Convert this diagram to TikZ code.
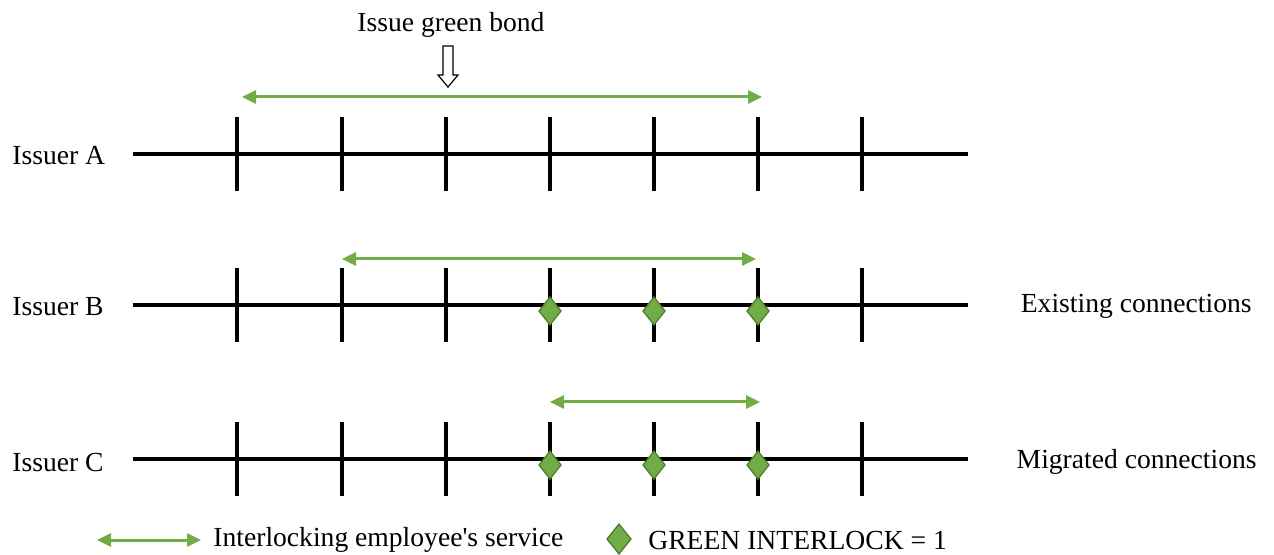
\documentclass[tikz,border=0pt]{standalone}
\usepackage{fontspec}
\setmainfont{Liberation Serif}
\usetikzlibrary{arrows.meta}
\definecolor{gline}{HTML}{70AD47}
\definecolor{gdark}{HTML}{4E7A30}
\begin{document}
\begin{tikzpicture}[x=0.5pt,y=-0.5pt,
  lbl/.style={font=\fontsize{13.8}{16}\selectfont, inner sep=0pt},
  tline/.style={line width=1.6pt, black},
  tick/.style={line width=1.6pt, black},
  serv/.style={gline, line width=1.5pt, {Triangle[length=7pt,width=6.5pt]}-{Triangle[length=7pt,width=6.5pt]}},
  gdia/.style={draw=gdark, fill=gline, line width=0.6pt, line join=miter}]
\useasboundingbox (0,0) rectangle (1274,555);
% labels
\node[lbl, anchor=west] (la) at (12,156) {Issuer A};
\node[lbl, anchor=west] (lb) at (12,307) {Issuer B};
\node[lbl, anchor=west] (lc) at (12,462) {Issuer C};
\node[lbl, anchor=east] (ex) at (1252,306) {Existing connections};
\node[lbl, anchor=east] (mi) at (1257,462) {Migrated connections};
\node[lbl] (igb) at (451,25) {Issue green bond};
% timelines
\foreach \r/\y in {a/154,b/305,c/459}{
  \coordinate (\r s) at (133,\y);
  \coordinate (\r e) at (968,\y);
  \draw[tline] (\r s) -- (\r e);
  \foreach \i/\x in {1/237,2/342,3/446,4/550,5/654,6/758,7/862}{
    \coordinate (\r t\i) at (\x,\y);
    \draw[tick] ([yshift=18.5pt]\r t\i) -- ([yshift=-18.5pt]\r t\i);
  }
}
% white block arrow
\draw[black, line width=0.6pt, fill=white] (443,46) -- (453,46) -- (453,75) -- (458,75) -- (448,87) -- (438,75) -- (443,75) -- cycle;
% service arrows
\coordinate (sa1) at (242,97); \coordinate (sa2) at (762,97);
\coordinate (sb1) at (342,259); \coordinate (sb2) at (756,259);
\coordinate (sc1) at (550,402); \coordinate (sc2) at (760,402);
\draw[serv] (sa1) -- (sa2);
\draw[serv] (sb1) -- (sb2);
\draw[serv] (sc1) -- (sc2);
% diamonds
\foreach \r/\y in {b/311,c/465}{
  \foreach \x [count=\k] in {550,654,758}{
    \coordinate (d\r\k) at (\x,\y);
    \draw[gdia] (\x,\y-14) -- (\x+11,\y) -- (\x,\y+14) -- (\x-11,\y) -- cycle;
  }
}
% legend
\coordinate (l1) at (97,540); \coordinate (l2) at (201,540);
\draw[serv] (l1) -- (l2);
\node[lbl, anchor=west] (lt1) at (213,540) {Interlocking employee\textquotesingle s service};
\coordinate (ld) at (619,539);
\draw[gdia] (619,524) -- (631,539) -- (619,554) -- (607,539) -- cycle;
\node[lbl, anchor=west] (lt2) at (648,540) {GREEN INTERLOCK = 1};
\end{tikzpicture}
\end{document}
